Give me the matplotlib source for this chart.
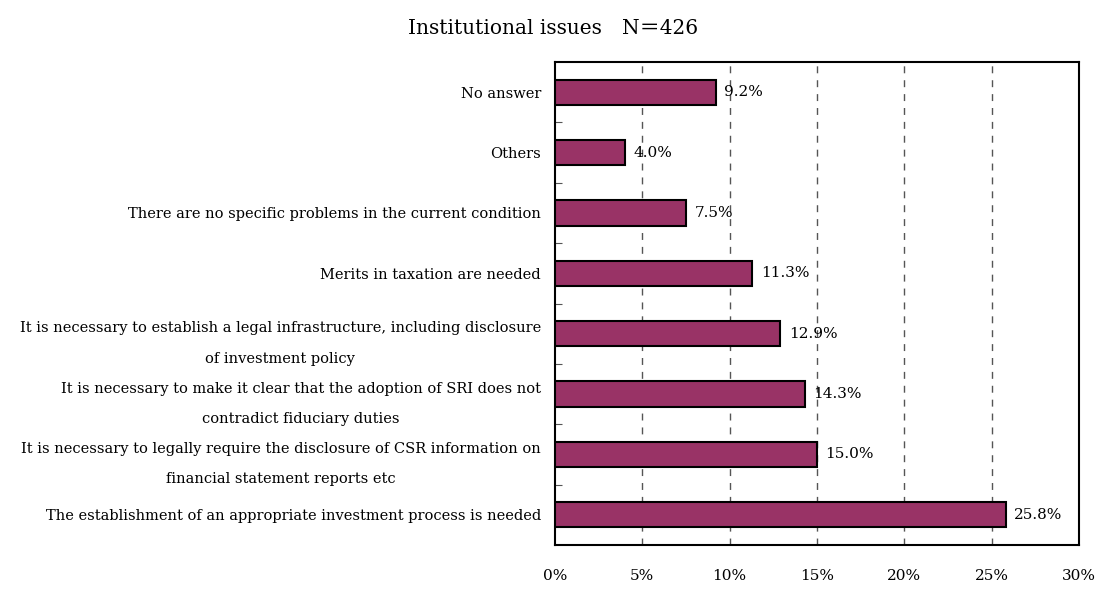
"""
Horizontal bar chart of institutional issues raised in the SRI survey
"""

import numpy as np
import matplotlib.pyplot as plt

# Survey categories, listed bottom to top
categories = [
    'The establishment of an appropriate investment process is needed',
    'It is necessary to legally require the disclosure of CSR information on\nfinancial statement reports etc',
    'It is necessary to make it clear that the adoption of SRI does not\ncontradict fiduciary duties',
    'It is necessary to establish a legal infrastructure, including disclosure\nof investment policy',
    'Merits in taxation are needed',
    'There are no specific problems in the current condition',
    'Others',
    'No answer',
]
shares = [25.8, 15.0, 14.3, 12.9, 11.3, 7.5, 4.0, 9.2]
x_ticks = [0, 5, 10, 15, 20, 25, 30]
x_tick_labels = ['0%', '5%', '10%', '15%', '20%', '25%', '30%']
title = 'Institutional issues\u3000N\uff1d426'

SERIF = ['DejaVu Serif', 'Noto Sans CJK JP']
BAR_COLOR = '#993366'

fig = plt.figure(figsize=(11, 5.89), dpi=100)
ax = fig.add_axes([0.5045, 0.0747, 0.4765, 0.82])

y = np.arange(len(categories))
ax.barh(y, shares, height=0.42, color=BAR_COLOR, edgecolor='black',
        linewidth=1.5, zorder=3)

# value labels just past the bar ends
for yi, v in zip(y, shares):
    ax.annotate(f'{v:.1f}%', xy=(v, yi), xytext=(6, 0),
                textcoords='offset points', va='center', ha='left',
                fontsize=11, family=SERIF, zorder=4)

ax.set_xlim(0, 30)
ax.set_ylim(-0.5, len(categories) - 0.5)

# dashed vertical gridlines
for gx in x_ticks[1:-1]:
    ax.axvline(gx, color='#555555', linestyle=(0, (5, 5)), linewidth=1.0,
               zorder=1)

ax.set_xticks(x_ticks)
ax.set_xticklabels(x_tick_labels, family=SERIF, fontsize=11)
ax.tick_params(axis='x', length=0, pad=17)

ax.set_yticks(y)
ax.set_yticklabels(categories, family=SERIF, fontsize=10.5,
                   multialignment='center', linespacing=2.5)
ax.tick_params(axis='y', which='major', length=0, pad=10)
ax.set_yticks(np.arange(len(categories) - 1) + 0.5, minor=True)
ax.tick_params(axis='y', which='minor', direction='in', length=5,
               width=0.8, color='#555555')

for side in ax.spines.values():
    side.set_linewidth(1.5)

fig.text(0.503, 0.952, title, ha='center', va='center', fontsize=14.5,
         family=SERIF)

fig.savefig('out.png', dpi=100)
